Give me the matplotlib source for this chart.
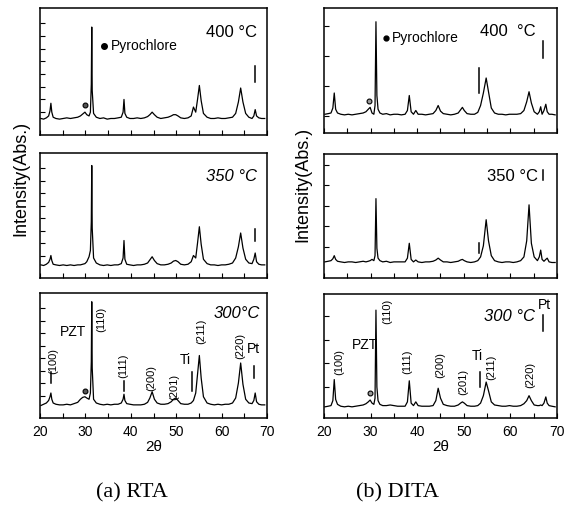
import matplotlib
matplotlib.use("Agg")
import matplotlib.pyplot as plt

plt.rcParams['font.family'] = ['Liberation Sans', 'DejaVu Sans']

# 2-theta grid
tt_rta = [20.2, 20.8, 21.4, 21.9, 22.2, 22.4, 22.6, 22.9, 23.5, 24.3,
          25.1, 25.9, 26.7, 27.5, 28.3, 28.9, 29.4, 29.9, 30.3, 30.8,
          31.1, 31.3, 31.4, 31.5, 31.8, 32.4, 33.2, 34.0, 34.8, 35.6,
          36.4, 37.2, 37.9, 38.3, 38.5, 38.7, 39.1, 39.8, 40.6, 41.4,
          42.2, 43.0, 43.7, 44.2, 44.7, 45.2, 45.8, 46.6, 47.4, 48.2,
          48.9, 49.4, 49.9, 50.4, 51.0, 51.8, 52.6, 53.3, 53.8, 54.3,
          54.7, 55.1, 55.5, 56.0, 56.8, 57.6, 58.4, 59.2, 60.0, 60.8,
          61.6, 62.4, 63.1, 63.7, 64.2, 64.7, 65.3, 66.0, 66.7, 67.1,
          67.4, 67.7, 68.2, 68.8, 69.5]

rta_400 = [13, 12.5, 13.5, 15, 19, 25, 18, 14, 13, 12.5,
           13, 13.5, 13, 13.5, 14, 15, 16.5, 18, 16, 15,
           18, 40, 85, 35, 17, 14, 13, 13.5, 12.5, 13,
           13, 13.5, 14, 18, 28, 17, 14, 13, 13, 13.5,
           13, 13.5, 14.5, 16, 18, 16, 14, 13, 13.5, 14,
           15, 16, 16, 15, 13.5, 13, 13.5, 15, 22, 18,
           28, 39, 27, 17, 14, 13, 13, 13.5, 13, 13,
           13.5, 14, 17, 26, 37, 26, 17, 14, 13, 15,
           20, 15, 13.5, 13, 13]

rta_350 = [10.5, 10, 11, 12.5, 15, 18, 14, 11, 10.5, 10,
           10.5, 10, 10.5, 10, 10.5, 10.5, 11, 11.5, 13, 17,
           22, 45, 90, 40, 16, 12, 10.5, 10, 10.5, 10,
           10.5, 10.5, 11.5, 16, 30, 15, 11, 10.5, 10, 10.5,
           10.5, 11, 12, 14.5, 17, 14, 11.5, 10.5, 10.5, 11,
           12, 13.5, 14, 13, 11, 10.5, 11, 13, 18, 16,
           28, 41, 27, 15, 11.5, 10.5, 10.5, 10, 10.5, 10.5,
           11, 12, 16, 25, 36, 24, 15, 12, 11.5, 15,
           20, 13, 11, 10.5, 10.5]

rta_300 = [10, 11, 12, 14, 17, 20, 15, 12, 11, 10.5,
           10.5, 11, 10.5, 11.5, 12.5, 15, 16.5, 17, 16, 15,
           20, 45, 93, 40, 15, 12, 11, 10.5, 11, 10.5,
           11, 11, 12, 15, 19, 14, 11.5, 11, 10.5, 10.5,
           10.5, 11, 12.5, 16, 21, 15, 12, 11, 11, 11.5,
           13, 15, 16, 14, 11.5, 11, 11, 12, 14, 20,
           35, 50, 32, 17, 12, 11, 10.5, 11, 10.5, 11,
           11, 12, 16, 28, 44, 27, 15, 12, 11.5, 14,
           20, 13, 11, 10.5, 10.5]

# 2-theta grid
tt_dita = [20.2, 20.9, 21.5, 21.9, 22.2, 22.5, 22.9, 23.6, 24.4, 25.2,
           26.0, 26.8, 27.6, 28.4, 29.0, 29.5, 29.9, 30.3, 30.7, 30.95,
           31.15, 31.35, 31.6, 32.0, 32.6, 33.4, 34.2, 35.0, 35.8, 36.6,
           37.4, 37.9, 38.3, 38.7, 39.2, 39.7, 40.2, 41.0, 41.8, 42.6,
           43.4, 44.0, 44.5, 45.0, 45.6, 46.4, 47.2, 48.0, 48.8, 49.3,
           49.7, 50.1, 50.7, 51.5, 52.3, 53.0, 53.6, 54.2, 54.8, 55.3,
           55.9, 56.6, 57.4, 58.2, 59.0, 59.8, 60.6, 61.4, 62.2, 62.9,
           63.5, 64.0, 64.5, 65.1, 65.8, 66.2, 66.5, 66.8, 67.2, 67.6,
           67.9, 68.3, 68.9, 69.6]

dita_400 = [15, 15.5, 16, 20, 32, 19, 16, 15, 14.5, 15,
            14.5, 15, 15.5, 16, 17, 19, 20.5, 16, 15, 22,
            89, 30, 19, 16, 15, 15.5, 14.5, 15, 15, 14.5,
            15, 18, 30, 17, 15, 18, 15, 15, 14.5, 15,
            15.5, 18, 22, 17.5, 15.5, 15, 14.5, 15, 16, 18.5,
            20.5, 18, 15.5, 15, 15, 16.5, 22, 32, 44, 33,
            20, 16, 15, 15, 14.5, 15, 15, 15, 15.5, 18,
            25, 33, 24, 17, 15, 17, 21, 15, 18, 23,
            17, 15, 15, 14.5]

dita_350 = [13, 13.5, 14, 15.5, 18, 15, 13.5, 13, 12.5, 13,
            13, 12.5, 13, 13.5, 13, 13.5, 14, 15, 14, 18,
            64, 24, 16, 14, 13, 13.5, 12.5, 13, 13, 13,
            13, 16, 28, 15, 13, 14.5, 13, 12.5, 13, 13,
            13.5, 14.5, 16, 14.5, 13, 13, 12.5, 13, 13.5, 14.5,
            15, 14, 13, 12.5, 13, 14, 17, 26, 47, 30,
            18, 14, 13, 12.5, 13, 13, 12.5, 13, 14, 17,
            30, 59, 28, 17, 14, 17, 22.5, 15, 13.5, 15,
            16, 13, 12.5, 12.5]

dita_300 = [9, 9.5, 10, 14, 31, 15, 11, 9.5, 9, 9.5,
            9, 9.5, 10, 10.5, 11.5, 13, 14.5, 12, 11, 16,
            87, 25, 14, 11, 10, 10, 10.5, 10, 9.5, 9.5,
            9.5, 13, 30, 12, 10, 13, 10, 9.5, 9.5, 9.5,
            10, 14, 24, 16, 11, 10, 9.5, 9.5, 10.5, 12,
            13, 12, 10, 9.5, 9.5, 10, 12, 18, 29, 22,
            13, 10.5, 10, 9.5, 9.5, 10, 9.5, 9.5, 10, 11.5,
            14, 18, 14, 10.5, 10, 10, 10.5, 10, 12, 17,
            12, 10, 9.5, 9]

# sharp faint lines (2theta, bottom, top)
rta_400_sticks = [(67.3, 42, 54)]
rta_350_sticks = [(67.3, 30, 39)]
rta_300_sticks = [(22.4, 28, 37), (38.5, 22, 30), (53.4, 22, 37), (67.1, 32, 42)]
dita_400_sticks = [(53.3, 32, 52), (67.0, 60, 74)]
dita_350_sticks = [(53.3, 20, 28), (67.0, 79, 87)]
dita_300_sticks = [(53.4, 25, 37), (67.1, 70, 83)]

# pyrochlore marks on the curves
rta_dots = {'400': (29.9, 23.6), '300': (29.9, 22)}
dita_dots = {'400': (29.7, 26), '300': (29.8, 20)}

# peak labels (text, 2theta, height, rotated)
rta_labels = [("(100)", 22.9, 46, True), ("PZT", 27.3, 69, False), ("(110)", 33.4, 79, True),
              ("(111)", 38.3, 42, True), ("(200)", 44.4, 32, True), ("(201)", 49.5, 25, True),
              ("Ti", 51.9, 46, False), ("(211)", 55.6, 69, True), ("(220)", 64.2, 58, True),
              ("Pt", 67.0, 55, False)]
dita_labels = [("(100)", 23.2, 45, True), ("PZT", 28.7, 59, False), ("(110)", 33.5, 86, True),
               ("(111)", 37.8, 45, True), ("(200)", 45.0, 43, True), ("(201)", 49.8, 29, True),
               ("Ti", 53.0, 50, False), ("(211)", 55.9, 41, True), ("(220)", 64.3, 35, True),
               ("Pt", 67.2, 91, False)]


def draw_panel(fig, rect, tt, inten, sticks, yticks, bottom=False):
    ax = fig.add_axes(rect)
    ax.plot(tt, inten, color='black', lw=0.9)
    for pos, lo, hi in sticks:
        ax.plot([pos, pos], [lo, hi], color='black', lw=1.1)
    ax.set_xlim(20, 70)
    ax.set_ylim(0, 100)
    ax.set_xticks(range(20, 71, 5))
    if bottom:
        ax.set_xticklabels([str(v) if v % 10 == 0 else '' for v in range(20, 71, 5)], fontsize=10)
        ax.set_xlabel("2θ", fontsize=11, labelpad=1)
    else:
        ax.set_xticklabels([])
    ax.set_yticks(yticks)
    ax.set_yticklabels([])
    ax.tick_params(direction='in', length=3.5, width=0.8, pad=5)
    for s in ax.spines.values():
        s.set_linewidth(1.1)
    return ax


def put_labels(ax, labels):
    for txt, x, y, rot in labels:
        if rot:
            ax.text(x, y, txt, rotation=90, ha='center', va='center', fontsize=8)
        else:
            ax.text(x, y, txt, ha='center', va='center', fontsize=10)


fig = plt.figure(figsize=(5.66, 5.16), dpi=100)

W, H = 566, 516


def rect(x0, x1, y0, y1):
    return [x0 / W, 1 - y1 / H, (x1 - x0) / W, (y1 - y0) / H]


rta_ticks = [18, 28, 38, 48, 58, 68, 78, 88]

a1 = draw_panel(fig, rect(40, 267, 8, 135), tt_rta, rta_400, rta_400_sticks, rta_ticks)
a2 = draw_panel(fig, rect(40, 267, 153, 278), tt_rta, rta_350, rta_350_sticks, rta_ticks)
a3 = draw_panel(fig, rect(40, 267, 293, 418), tt_rta, rta_300, rta_300_sticks, rta_ticks, bottom=True)

b1 = draw_panel(fig, rect(324, 557, 8, 133), tt_dita, dita_400, dita_400_sticks, [14, 38, 62, 86])
b2 = draw_panel(fig, rect(324, 557, 154, 278), tt_dita, dita_350, dita_350_sticks, [25, 42, 58, 75, 91])
b3 = draw_panel(fig, rect(324, 557, 294, 418), tt_dita, dita_300, dita_300_sticks, [25, 44, 63, 82], bottom=True)

for ax, key in [(a1, '400'), (a3, '300')]:
    x, y = rta_dots[key]
    ax.plot(x, y, 'o', ms=3.5, mfc='#555555', mec='black', mew=0.8)
for ax, key in [(b1, '400'), (b3, '300')]:
    x, y = dita_dots[key]
    ax.plot(x, y, 'o', ms=3.5, mfc='#999999', mec='black', mew=0.8)

# legend-like pyrochlore note
a1.plot(34.2, 70, 'o', ms=4, color='black')
a1.text(35.6, 70, "Pyrochlore", va='center', fontsize=10)
b1.plot(33.4, 76, 'o', ms=3.5, color='black')
b1.text(34.5, 76, "Pyrochlore", va='center', fontsize=10)

# temperatures
a1.text(67.8, 81, "400 °C", ha='right', va='center', fontsize=12)
a2.text(67.7, 81, "350 °C", ha='right', va='center', fontsize=12, style='italic')
a3.text(68.5, 84, "300°C", ha='right', va='center', fontsize=12, style='italic')
b1.text(65.5, 81, "400  °C", ha='right', va='center', fontsize=12)
b2.text(65.9, 82, "350 °C", ha='right', va='center', fontsize=12)
b3.text(65.2, 82, "300 °C", ha='right', va='center', fontsize=12, style='italic')

put_labels(a3, rta_labels)
put_labels(b3, dita_labels)

fig.text(21 / W, 1 - 178 / H, "Intensity(Abs.)", rotation=90, ha='center', va='center', fontsize=13)
fig.text(303 / W, 1 - 184 / H, "Intensity(Abs.)", rotation=90, ha='center', va='center', fontsize=13)

fig.text(132 / W, 1 - 493 / H, "(a) RTA", ha='center', va='center', fontsize=16,
         family=['Liberation Serif', 'DejaVu Serif'])
fig.text(398 / W, 1 - 493 / H, "(b) DITA", ha='center', va='center', fontsize=16,
         family=['Liberation Serif', 'DejaVu Serif'])

plt.savefig("out.png", dpi=100)
plt.close()
